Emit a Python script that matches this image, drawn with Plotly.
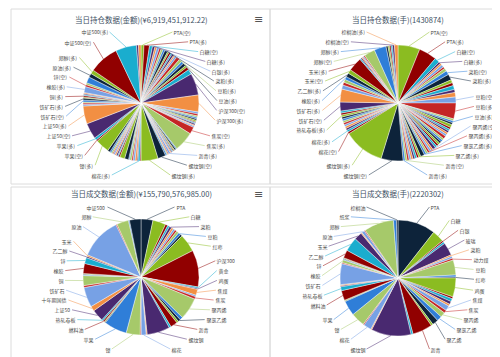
import math
import plotly.graph_objects as go

W, H = 500, 357
PALETTE = ["#2f7ed8", "#0d233a", "#8bbc21", "#910000", "#1aadce",
           "#492970", "#f28f43", "#77a1e5", "#c42525", "#a6c96a"]
FONT = "Noto Sans CJK SC, sans-serif"

# ---------------- 当日持仓数据(金额) ----------------
hold_amt_title = "当日持仓数据(金额)(¥6,919,451,912.22)"
hold_amt_names = [
    "PTA(空)", "PTA(多)", "白糖(空)", "白糖(多)", "白银(空)", "白银(多)", "玻璃(空)", "玻璃(多)", "菜粕(空)", "菜粕(多)",
    "菜油(空)", "菜油(多)", "纯碱(空)", "纯碱(多)", "淀粉(多)", "动力煤(多)", "豆粕(空)", "豆粕(多)", "豆油(空)", "豆油(多)",
    "沪铝(多)", "沪锌(空)", "沪锌(多)", "沪深300(空)", "沪深300(多)", "黄金(空)", "黄金(多)", "鸡蛋(空)", "鸡蛋(多)", "硅铁(空)",
    "锰硅(空)", "粳米(多)", "焦煤(空)", "焦煤(多)", "硅铁(多)", "锰硅(多)", "焦炭(空)", "焦炭(多)", "聚丙烯(空)", "聚丙烯(多)",
    "聚氯乙烯(空)", "聚氯乙烯(多)", "聚乙烯(空)", "聚乙烯(多)", "沥青(空)", "沥青(多)", "红枣(多)", "花生(多)", "苯乙烯(多)", "螺纹钢(空)",
    "螺纹钢(多)", "棉花(空)", "棉花(多)", "棉纱(多)", "尿素(空)", "尿素(多)", "红枣(空)", "花生(空)", "燃料油(空)", "燃料油(多)",
    "热轧卷板(空)", "热轧卷板(多)", "生猪(多)", "短纤(空)", "不锈钢(多)", "短纤(多)", "苯乙烯(空)", "液化气(多)", "国际铜(多)", "低硫燃料油(多)",
    "镍(多)", "苹果(空)", "苹果(多)", "上证50(空)", "上证50(多)", "十年期国债(空)", "十年期国债(多)", "五年期国债(多)", "铁矿石(空)", "铁矿石(多)",
    "铜(空)", "铜(多)", "锡(空)", "锡(多)", "橡胶(空)", "橡胶(多)", "锌(空)", "乙二醇(多)", "玉米(多)", "原油(多)",
    "郑醇(多)", "中证500(空)", "中证500(多)", "棕榈油(空)", "棕榈油(多)",
]
hold_amt_vals = [
    3, 5.5, 3, 2.5, 2, 2.5, 2, 2, 2, 3,
    1.5, 2, 1.5, 2, 1.5, 2, 3.5, 3, 2.5, 3,
    2, 3, 5, 22, 17, 2, 2, 1.5, 1.5, 1.5,
    1.5, 1, 1, 1.5, 1, 1.5, 7, 20, 1, 1.5,
    1, 1, 1, 1, 1, 2, 1, 1, 1.5, 8,
    17, 1, 2, 1, 2, 2, 1.5, 2, 1, 4,
    5, 1.5, 1, 1.5, 1.5, 1.5, 1, 1.5, 1.5, 2.5,
    14, 1.5, 2.5, 16, 18, 1.5, 1.5, 1, 2, 2,
    1, 1.5, 1, 1, 1, 6, 2, 2, 6, 4,
    4, 30, 21, 2, 2.5,
]
hold_amt_shown = [
    "PTA(空)", "PTA(多)", "白糖(空)", "白糖(多)", "白银(多)", "菜粕(多)", "豆粕(多)", "豆油(多)",
    "沪深300(空)", "沪深300(多)", "焦炭(空)", "焦炭(多)", "沥青(多)", "螺纹钢(空)", "螺纹钢(多)",
    "棉花(多)", "镍(多)", "苹果(空)", "苹果(多)", "上证50(空)", "上证50(多)", "铁矿石(空)", "铁矿石(多)",
    "铜(多)", "橡胶(多)", "锌(空)", "原油(多)", "郑醇(多)", "中证500(空)", "中证500(多)",
]

# ---------------- 当日持仓数据(手) ----------------
hold_lot_title = "当日持仓数据(手)(1430874)"
hold_lot_names = [
    "PTA(空)", "PTA(多)", "白糖(空)", "白糖(多)", "白银(空)", "白银(多)", "玻璃(空)", "玻璃(多)", "菜粕(空)", "菜粕(多)",
    "菜油(空)", "菜油(多)", "纯碱(空)", "纯碱(多)", "动力煤(多)", "豆粕(空)", "豆粕(多)", "豆油(空)", "豆油(多)", "沪铝(空)",
    "沪铝(多)", "沪锌(空)", "沪锌(多)", "沪深300(空)", "沪深300(多)", "黄金(空)", "黄金(多)", "鸡蛋(空)", "鸡蛋(多)", "花生(空)",
    "花生(多)", "焦煤(空)", "焦煤(多)", "焦炭(空)", "焦炭(多)", "聚丙烯(空)", "聚丙烯(多)", "聚氯乙烯(空)", "聚氯乙烯(多)", "聚乙烯(空)",
    "聚乙烯(多)", "尿素(多)", "红枣(多)", "苯乙烯(空)", "苯乙烯(多)", "短纤(多)", "生猪(多)", "沥青(空)", "沥青(多)", "螺纹钢(空)",
    "螺纹钢(多)", "棉花(空)", "棉花(多)", "棉纱(多)", "镍(空)", "镍(多)", "苹果(空)", "苹果(多)", "燃料油(多)", "热轧卷板(空)",
    "热轧卷板(多)", "上证50(空)", "上证50(多)", "铁矿石(空)", "铁矿石(多)", "十年期国债(多)", "铜(多)", "橡胶(空)", "橡胶(多)", "乙二醇(多)",
    "玉米(空)", "玉米(多)", "原油(空)", "原油(多)", "纸浆(空)", "纸浆(多)", "锡(多)", "郑醇(空)", "郑醇(多)", "中证500(空)",
    "中证500(多)", "锌(空)", "锌(多)", "棕榈油(空)", "棕榈油(多)",
]
hold_lot_vals = [
    22, 18, 5, 2, 2, 2.5, 2, 3, 4, 6,
    3, 3, 4, 3, 4.5, 6, 16, 2, 2, 2,
    3, 2, 2, 2, 2, 2, 3, 2, 2, 2,
    2, 2, 2, 3, 2, 2, 2, 2, 2, 4,
    2, 2, 2, 2, 2, 2, 2, 2, 2, 22,
    41, 2, 2, 2, 2, 2, 2, 2, 2, 2,
    2, 2, 2, 9, 13, 4, 3, 3, 3, 4,
    4, 14, 1.2, 1.2, 1.2, 1.2, 1.2, 11, 12, 2,
    1.5, 1.5, 1.5, 2, 3.5,
]
hold_lot_shown = [
    "PTA(空)", "PTA(多)", "白糖(空)", "白糖(多)", "菜粕(空)", "菜粕(多)", "豆粕(空)", "豆粕(多)", "豆油(多)",
    "聚丙烯(空)", "聚丙烯(多)", "聚氯乙烯(多)", "聚乙烯(多)", "沥青(空)", "沥青(多)", "螺纹钢(空)", "螺纹钢(多)",
    "棉花(空)", "棉花(多)", "热轧卷板(多)", "铁矿石(空)", "铁矿石(多)", "橡胶(多)", "乙二醇(多)", "玉米(空)",
    "玉米(多)", "郑醇(空)", "郑醇(多)", "棕榈油(空)", "棕榈油(多)",
]

# ---------------- 当日成交数据(金额) ----------------
trade_amt_title = "当日成交数据(金额)(¥155,790,576,985.00)"
trade_amt_names = [
    "PTA", "白糖", "白银", "玻璃", "菜粕", "菜油", "纯碱", "淀粉", "动力煤", "豆粕",
    "豆油", "红枣", "沪深300", "黄金", "鸡蛋", "焦煤", "沪铝", "焦炭", "聚丙烯", "聚乙烯",
    "聚氯乙烯", "苯乙烯", "沥青", "液化气", "螺纹钢", "棉纱", "棉花", "不锈钢", "镍", "苹果",
    "硅铁", "锰硅", "燃料油", "热轧卷板", "上证50", "十年期国债", "铁矿石", "生猪", "铜", "五年期国债",
    "锡", "短纤", "橡胶", "锌", "乙二醇", "玉米", "原油", "尿素", "郑醇", "花生",
    "中证500",
]
trade_amt_vals = [
    12, 13, 2.5, 2, 2.5, 2, 2, 2, 2.5, 2.5,
    2, 18, 37, 1.5, 1, 6, 1.5, 2.5, 22, 3,
    2.5, 2, 7, 2, 23, 1, 5, 1, 14, 23,
    0.8, 0.8, 1.5, 1.5, 12, 5, 20, 2, 10, 0.7,
    0.7, 0.7, 10, 6, 1.5, 1.5, 42, 1, 12, 1,
    11.5,
]
trade_amt_shown = [
    "PTA", "白糖", "菜粕", "豆粕", "红枣", "沪深300", "黄金", "鸡蛋", "焦煤", "焦炭",
    "聚丙烯", "聚氯乙烯", "沥青", "螺纹钢", "棉花", "镍", "苹果", "燃料油", "热轧卷板", "上证50",
    "十年期国债", "铁矿石", "铜", "橡胶", "锌", "乙二醇", "玉米", "原油", "郑醇", "中证500",
]

# ---------------- 当日成交数据(手) ----------------
trade_lot_title = "当日成交数据(手)(2220302)"
trade_lot_names = [
    "PTA", "白糖", "白银", "苯乙烯", "玻璃", "菜粕", "纯碱", "动力煤", "豆粕", "豆油",
    "红枣", "鸡蛋", "黄金", "沪锌", "硅铁", "锰硅", "焦煤", "焦炭", "聚丙烯", "聚氯乙烯",
    "聚乙烯", "尿素", "沥青", "液化气", "螺纹钢", "棉纱", "棉花", "不锈钢", "镍", "苹果",
    "沪铝", "沪铅", "燃料油", "热轧卷板", "生猪", "上证50", "铁矿石", "短纤", "橡胶", "锡",
    "铜", "五年期国债", "锌", "乙二醇", "玉米", "低硫燃料油", "原油", "花生", "郑醇", "纸浆",
    "棕榈油",
]
trade_lot_vals = [
    38, 12, 1.5, 2, 13, 1.5, 2, 2, 15, 2,
    1, 19, 2, 3, 3, 2, 5, 3, 5, 5,
    6, 2, 20, 2, 40, 1, 8, 1, 14, 15,
    0.7, 0.7, 10, 4, 1, 1, 21, 1, 3, 0.7,
    0.7, 0.7, 8, 14, 8, 1, 3, 1, 30, 3,
    1.5,
]
trade_lot_shown = [
    "PTA", "白糖", "白银", "玻璃", "菜粕", "动力煤", "豆粕", "红枣", "鸡蛋", "焦煤",
    "焦炭", "聚丙烯", "聚氯乙烯", "聚乙烯", "沥青", "螺纹钢", "棉花", "镍", "苹果", "燃料油",
    "热轧卷板", "铁矿石", "橡胶", "锌", "乙二醇", "玉米", "原油", "郑醇", "纸浆", "棕榈油",
]

R = 58          # pie radius (px)
LBL_RX = 76     # horizontal reach of the label column from the pie centre
LBL_RY = 78     # vertical extent of the label ellipse
GAP = 9.8       # min vertical spacing between labels


def domain(cx, cy):
    return dict(x=[(cx - R) / W, (cx + R) / W], y=[1 - (cy + R) / H, 1 - (cy - R) / H])


def make_pie(names, vals, offset, cx, cy):
    colors = [PALETTE[(i + offset) % 10] for i in range(len(names))]
    return go.Pie(
        labels=names, values=vals, textinfo="none", sort=False,
        direction="clockwise", rotation=0,
        marker=dict(colors=colors, line=dict(color="#ffffff", width=0.4)),
        domain=domain(cx, cy), showlegend=False, hoverinfo="label+value",
    )


def spread(ys, lo, hi, gap):
    n = len(ys)
    if n == 0:
        return []
    if n > 1 and (n - 1) * gap > hi - lo:
        gap = (hi - lo) / (n - 1)
    out = [min(max(y, lo), hi) for y in ys]
    for i in range(1, n):
        out[i] = max(out[i], out[i - 1] + gap)
    if out[-1] > hi:
        out[-1] = hi
        for i in range(n - 2, -1, -1):
            out[i] = min(out[i], out[i + 1] - gap)
    return out


def label_annotations(names, vals, shown, offset, cx, cy, lo, hi):
    total = float(sum(vals))
    cum = 0.0
    right, left = [], []
    for i, (n, v) in enumerate(zip(names, vals)):
        mid = (cum + v / 2.0) / total * 360.0
        cum += v
        if n not in shown:
            continue
        th = math.radians(mid)
        item = dict(name=n, color=PALETTE[(i + offset) % 10],
                    rx=cx + R * math.sin(th), ry=cy - R * math.cos(th),
                    ny=cy - (R + 22) * math.cos(th))
        (right if mid < 180 else left).append(item)
    anns = []
    for side, items in ((1, right), (-1, left)):
        items.sort(key=lambda d: d["ny"])
        ys = spread([d["ny"] for d in items], lo, hi, GAP)
        for d, ly in zip(items, ys):
            dy = ly - cy
            f = math.sqrt(max(0.0, 1 - (dy / LBL_RY) ** 2))
            lx = cx + side * max(LBL_RX * f, 8)
            anns.append(dict(
                text=d["name"], x=d["rx"] / W, y=1 - d["ry"] / H, xref="paper", yref="paper",
                ax=lx - d["rx"], ay=ly - d["ry"], axref="pixel", ayref="pixel",
                showarrow=True, arrowhead=0, arrowwidth=0.5, arrowcolor=d["color"],
                standoff=0, startstandoff=0,
                xanchor="left" if side > 0 else "right", yanchor="middle",
                font=dict(size=5, color="#4a4a4a", family=FONT), borderpad=0.5,
            ))
    return anns


fig = go.Figure()
panels = [
    (hold_amt_names, hold_amt_vals, hold_amt_shown, 2, 133, 95, 24, 167, hold_amt_title, 11),
    (hold_lot_names, hold_lot_vals, hold_lot_shown, 2, 390, 95, 24, 167, hold_lot_title, 11),
    (trade_amt_names, trade_amt_vals, trade_amt_shown, 1, 133, 269, 199, 341, trade_amt_title, 185),
    (trade_lot_names, trade_lot_vals, trade_lot_shown, 1, 390, 270, 199, 341, trade_lot_title, 185),
]

TITLE_COLOR = "#3d4f63"
annotations = []
for names, vals, shown, off, cx, cy, lo, hi, title, ty in panels:
    fig.add_trace(make_pie(names, vals, off, cx, cy))
    annotations += label_annotations(names, vals, shown, off, cx, cy, lo, hi)
    annotations.append(dict(text=title, x=cx / W, y=1 - ty / H, xref="paper", yref="paper",
                            showarrow=False, xanchor="center", yanchor="middle",
                            font=dict(size=7.5, color=TITLE_COLOR, family=FONT)))

for cy in (11, 186):
    annotations.append(dict(text="≡", x=250 / W, y=1 - cy / H, xref="paper", yref="paper",
                            showarrow=False, xanchor="center", yanchor="middle",
                            font=dict(size=11, color="#555555", family="DejaVu Sans")))

BORDER = "#dcdcdc"
shapes = []
for x0, y0, x1, y1 in [(3, 1, 262, 176), (262, 1, 498, 176), (3, 179, 262, 352), (262, 179, 498, 352)]:
    shapes.append(dict(type="rect", xref="paper", yref="paper",
                       x0=x0 / W, x1=x1 / W, y0=1 - y1 / H, y1=1 - y0 / H,
                       line=dict(color=BORDER, width=1), fillcolor="rgba(0,0,0,0)", layer="below"))

fig.update_layout(
    width=W, height=H, margin=dict(l=0, r=0, t=0, b=0),
    paper_bgcolor="#ffffff", plot_bgcolor="#ffffff",
    annotations=annotations, shapes=shapes,
    font=dict(family=FONT),
)
fig.write_html("out.html")
